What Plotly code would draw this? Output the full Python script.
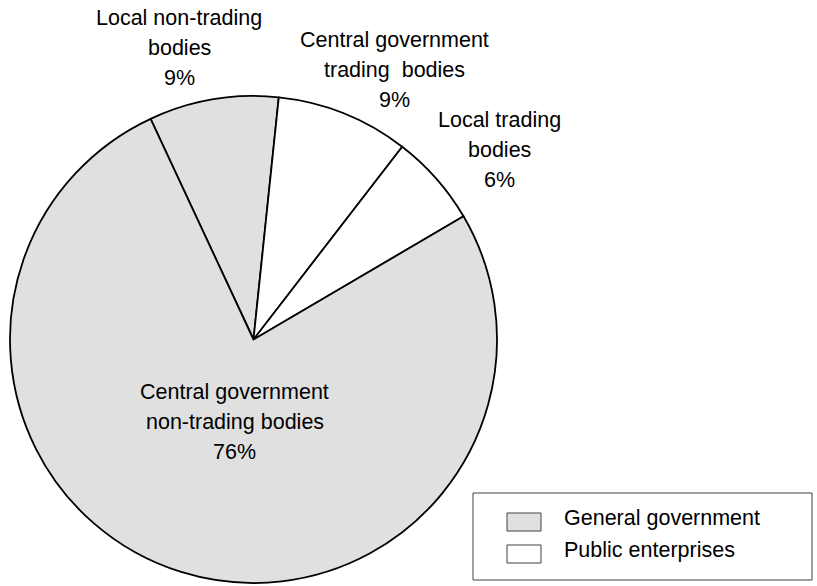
import plotly.graph_objects as go

# Slice data, clockwise from the top-left boundary
labels = ["Local non-trading bodies", "Central government trading bodies",
          "Local trading bodies", "Central government non-trading bodies"]
values = [8.6, 8.8, 6.1, 76.5]
pct_labels = ["9%", "9%", "6%", "76%"]
groups = ["General government", "Public enterprises", "Public enterprises", "General government"]

# Label lines as shown in the chart
label_lines = [["Local non-trading", "bodies"],
               ["Central government", "trading  bodies"],
               ["Local trading", "bodies"],
               ["Central government", "non-trading bodies"]]

legend_names = ["General government", "Public enterprises"]
group_colors = {"General government": "#e0e0e0", "Public enterprises": "#ffffff"}

W, H = 817, 586
font = "Liberation Sans, Arial, sans-serif"
fsize = 21.5

fig = go.Figure()

fig.add_trace(go.Pie(
    labels=labels,
    values=values,
    sort=False,
    direction="clockwise",
    rotation=-25,
    textinfo="none",
    hoverinfo="label+percent",
    marker=dict(colors=[group_colors[g] for g in groups],
                line=dict(color="black", width=1.8)),
    domain=dict(x=[10 / W, 497 / W], y=[1 - 583 / H, 1 - 96 / H]),
    showlegend=False,
))

# Slice labels: centre x and first-line baseline, in pixels
label_pos = [(179, 25), (394, 46.5), (499, 127), (235, 399)]
line_gap = 30
annotations = []
for lines, pct, (px, base) in zip(label_lines, pct_labels, label_pos):
    for k, line in enumerate(lines + [pct]):
        y_px = base + k * line_gap - 7
        annotations.append(dict(
            text=line, x=px / W, y=1 - y_px / H, xref="paper", yref="paper",
            xanchor="center", yanchor="middle", showarrow=False,
            font=dict(family=font, size=fsize, color="black"),
        ))

# Hand-drawn legend box
shapes = [dict(type="rect", xref="paper", yref="paper",
               x0=473 / W, x1=812 / W, y0=1 - 580 / H, y1=1 - 493 / H,
               line=dict(color="#404040", width=1), fillcolor="white")]
legend_rows = [(513, 531, 525), (545, 563, 557)]
for name, (top, bot, base) in zip(legend_names, legend_rows):
    shapes.append(dict(type="rect", xref="paper", yref="paper",
                       x0=507 / W, x1=541 / W, y0=1 - bot / H, y1=1 - top / H,
                       line=dict(color="#404040", width=1),
                       fillcolor=group_colors[name]))
    annotations.append(dict(
        text=name, x=562 / W, y=1 - (base - 7) / H, xref="paper", yref="paper",
        xanchor="left", yanchor="middle", showarrow=False,
        font=dict(family=font, size=fsize, color="black"),
    ))

fig.update_layout(
    width=W, height=H,
    margin=dict(l=0, r=0, t=0, b=0),
    paper_bgcolor="white",
    plot_bgcolor="white",
    annotations=annotations,
    shapes=shapes,
)

# Drop the page's default body margin so the figure fills the window
fig.write_html("out.html", config={"displayModeBar": False},
               post_script="document.body.style.margin='0';")
